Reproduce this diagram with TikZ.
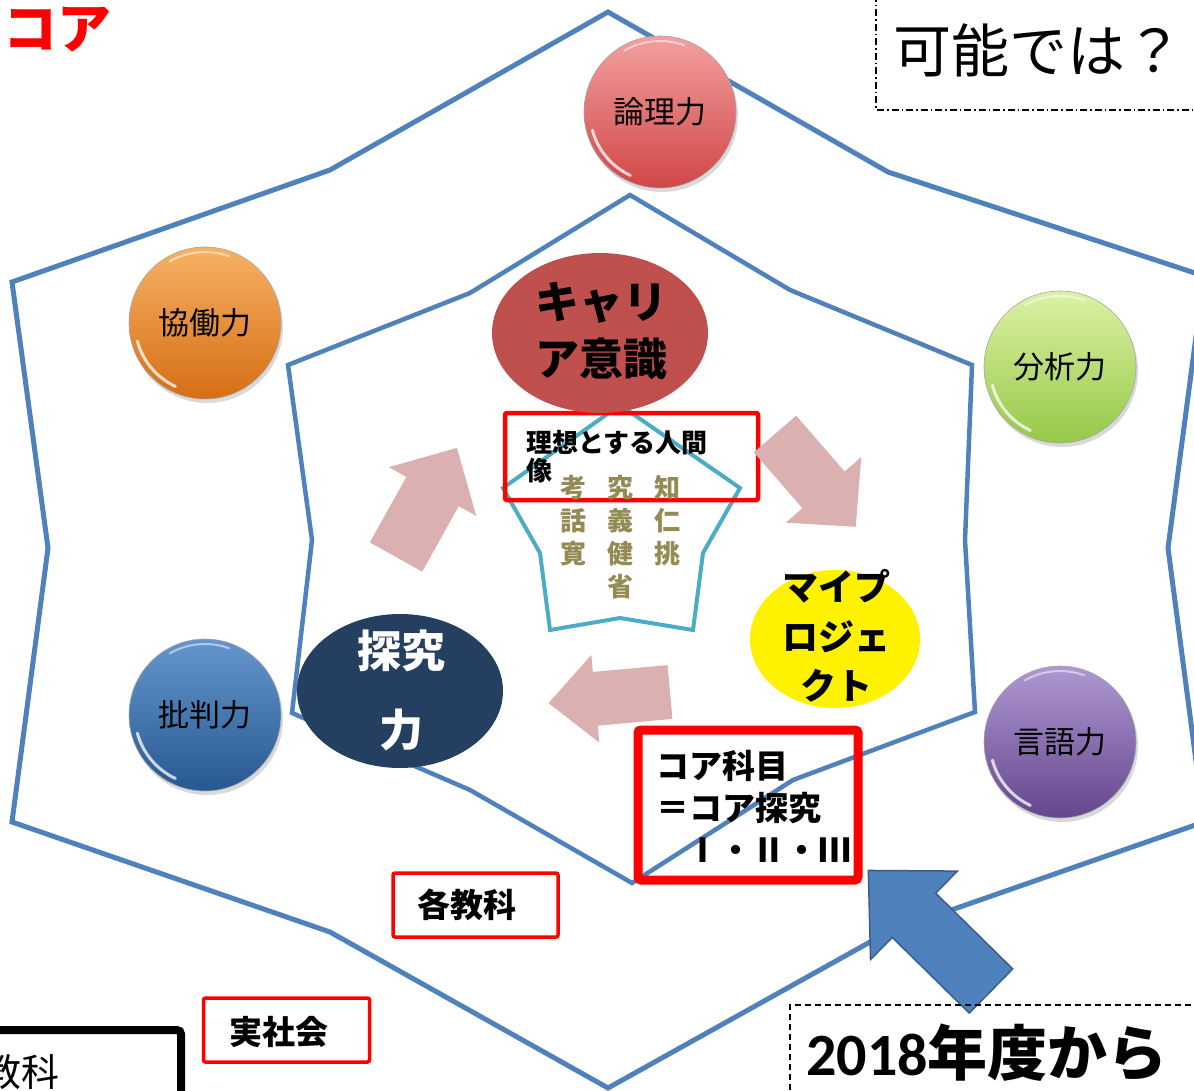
\documentclass[tikz,border=0pt]{standalone}
\usepackage{fontspec}
\setmainfont{Noto Sans CJK JP}
\newfontfamily\latinb{Carlito}
\usetikzlibrary{shapes.geometric,shadows}
\definecolor{hexblue}{HTML}{4F81BD}
\definecolor{hexblueD}{HTML}{385D8A}
\definecolor{pinkarr}{RGB}{219,176,176}
\definecolor{careerred}{HTML}{C0504D}
\definecolor{navyfill}{HTML}{243F60}
\definecolor{olivetxt}{HTML}{948A54}
\definecolor{starcyan}{HTML}{4BACC6}
\newcommand{\fsz}[2]{\fontsize{#1}{#2}\selectfont}
\newcommand{\blockarr}[8]{%
  \begin{scope}[shift={(#1,#2)},rotate=#3]
    \path[#8] (0,#5) -- ({#4-#7},#5) -- ({#4-#7},#6) -- (#4,0) -- ({#4-#7},-#6) -- ({#4-#7},-#5) -- (0,-#5) -- cycle;
  \end{scope}}
\begin{document}
\begin{tikzpicture}[x=1pt,y=-1pt,
  hexline/.style={draw=hexblue, line width=5pt},
  innerline/.style={draw=hexblue, line width=4.5pt},
  sphere/.style={circle, minimum size=152pt, inner sep=0pt, draw=black!35, line width=0.6pt,
    drop shadow={shadow xshift=2pt,shadow yshift=-4pt,opacity=0.3}, font=\fsz{31}{36}},
  olivech/.style={text=olivetxt, font=\bfseries\fsz{26}{30}, inner sep=0pt},
  redbox/.style={draw=red, line width=3.5pt, rounded corners=2pt, inner sep=0pt},
  lbl/.style={font=\bfseries\fsz{33}{40}, inner sep=0pt},
  highlight/.style={draw=white, opacity=0.75, line width=3pt, line cap=round}
]
\useasboundingbox (0,0) rectangle (1194,1091);

% outer and inner frames
\draw[hexline] (608,12) -- (888,172) -- (1204,276) -- (1168,548) -- (1204,822) -- (888,932)
  -- (608,1088) -- (330,932) -- (12,822) -- (48,548) -- (12,282) -- (330,170) -- cycle;
\draw[innerline] (630,195) -- (790,290) -- (972,365) -- (965,540) -- (975,712) -- (793,780)
  -- (632,883) -- (470,790) -- (292,713) -- (312,540) -- (288,365) -- (470,293) -- cycle;

% spheres
\node[sphere, top color={rgb,255:red,244;green,160;blue,160}, bottom color={rgb,255:red,208;green,70;blue,70}] (ronri) at (660,112) {論理力};
\node[sphere, top color={rgb,255:red,246;green,178;blue,100}, bottom color={rgb,255:red,214;green,110;blue,20}] (kyodo) at (205,323) {協働力};
\node[sphere, top color={rgb,255:red,220;green,242;blue,165}, bottom color={rgb,255:red,150;green,200;blue,72}] (bunseki) at (1060,367) {分析力};
\node[sphere, top color={rgb,255:red,100;green,150;blue,205}, bottom color={rgb,255:red,40;green,88;blue,145}] (hihan) at (205,715) {批判力};
\node[sphere, top color={rgb,255:red,175;green,152;blue,210}, bottom color={rgb,255:red,100;green,70;blue,140}] (gengo) at (1060,742) {言語力};
\foreach \s in {ronri,kyodo,bunseki,hihan,gengo}{
  \draw[highlight] (\s.center) ++(195:70pt) arc[start angle=195, end angle=245, radius=70pt];
  \draw[highlight, opacity=0.5, line width=2pt] (\s.center) ++(70:71pt) arc[start angle=70, end angle=120, radius=71pt];
}

% star shape
\draw[starcyan, line width=4pt] (620,405) -- (740,488) -- (703,553) -- (693,630) -- (620,618)
  -- (550,630) -- (540,553) -- (503,488) -- cycle;

% ideal box
\draw[draw=red, line width=4.5pt, rounded corners=2pt] (505,413) rectangle (758,500);
\node[ellipse, fill=careerred, minimum width=216pt, minimum height=160pt, inner sep=0pt] (career) at (600,333) {};
\node[font=\bfseries\fsz{44}{57}, align=center, inner sep=0pt] (careertxt) at (601,331) {キャリ\\ア意識};
\node[font=\bfseries\fsz{26}{28}, align=left, anchor=west, inner sep=0pt] (ideal) at (526,457) {理想とする人間\\像};

% olive characters
\node[olivech] (o11) at (573,488) {考};
\node[olivech] (o12) at (573,521) {話};
\node[olivech] (o13) at (573,554) {寛};
\node[olivech] (o21) at (620,488) {究};
\node[olivech] (o22) at (620,521) {義};
\node[olivech] (o23) at (620,554) {健};
\node[olivech] (o24) at (620,587) {省};
\node[olivech] (o31) at (667,488) {知};
\node[olivech] (o32) at (667,521) {仁};
\node[olivech] (o33) at (667,554) {挑};

% pink arrows
\blockarr{396}{557}{60.8}{125}{30}{50}{50}{fill=pinkarr}
\blockarr{775}{434}{-49}{123}{28}{50}{49}{fill=pinkarr}
\blockarr{670}{692}{185.2}{122}{27}{44}{47}{fill=pinkarr}

% inquiry and my project
\node[ellipse, fill=navyfill, minimum width=206pt, minimum height=154pt, inner sep=0pt] (tankyu) at (400,691) {};
\node[text=white, font=\bfseries\fsz{44}{79}, align=center, inner sep=0pt] (tankyutxt) at (401,690) {探究\\力};
\node[ellipse, fill=yellow, minimum width=170pt, minimum height=138pt, inner sep=0pt] (myproj) at (835,639) {};
\node[font=\bfseries\fsz{36}{49.5}, align=center, inner sep=0pt] (myprojtxt) at (836,636) {マイプ\\ロジェ\\クト};

% core subject box
\draw[draw=red, line width=9pt, rounded corners=3pt] (638,730) rectangle (858,880);
\node[font=\bfseries\fsz{33}{42}, align=left, anchor=west, inner sep=0pt] (core) at (656,806) {コア科目\\＝コア探究\\\hspace*{30pt}Ⅰ・Ⅱ・Ⅲ};

% blue arrow
\blockarr{991}{991}{135.5}{172}{31}{62}{64}{fill=hexblue, draw=hexblueD, line width=1.5pt}

% labels
\node[redbox, minimum width=165pt, minimum height=64pt] (kakubox) at (475.5,905) {};
\node[lbl] (kaku) at (467,905) {各教科};
\node[redbox, minimum width=166pt, minimum height=64pt] (jitsubox) at (286.5,1030) {};
\node[lbl] (jitsu) at (279,1032) {実社会};

\draw[line width=8pt, rounded corners=4pt] (-20,1030) -- (181,1030) -- (181,1110);
\node[font=\fsz{38}{40}, anchor=east, inner sep=0pt] (kyoka) at (60,1072) {教科};

\node[text=red, font=\bfseries\fsz{54}{60}, anchor=east, inner sep=0pt] (coretitle) at (112,30) {コア};

\draw[line width=1.3pt, dash pattern=on 7pt off 3pt on 1.5pt off 3pt] (876,-5) -- (876,110) -- (1200,110);
\node[font=\fsz{58}{60}, anchor=west, inner sep=0pt] (kanou) at (893,50) {可能では？};

\draw[line width=1.3pt, dash pattern=on 6pt off 4pt] (790,1100) -- (790,1005) -- (1200,1005);
\node[font=\bfseries\fsz{60}{62}, anchor=west, inner sep=0pt] (since) at (806,1053) {{\latinb\bfseries 2018}年度から};
\end{tikzpicture}
\end{document}
